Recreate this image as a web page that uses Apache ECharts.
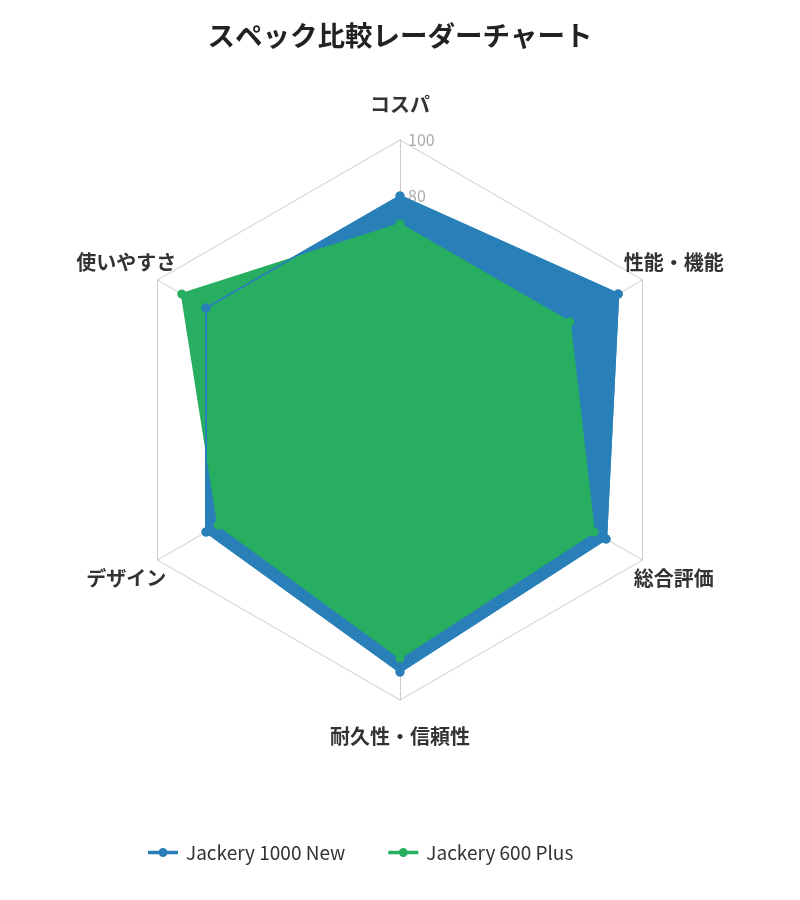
<!DOCTYPE html>
<html><head><meta charset="utf-8">
<script src="https://cdn.jsdelivr.net/npm/echarts@6/dist/echarts.min.js"></script>
<style>html,body{margin:0;padding:0;background:#fff}#c{width:800px;height:900px}</style>
</head><body><div id="c"></div>
<script>
// Indicators in clockwise order starting at the top, as shown in the chart
const indicators = ['コスパ', '性能・機能', '総合評価', '耐久性・信頼性', 'デザイン', '使いやすさ'];
const maxValue = 100;
const seriesNames = ['Jackery 1000 New', 'Jackery 600 Plus'];
const jackery1000 = [80, 90, 85, 90, 80, 80];
const jackery600 = [70, 70, 80, 85, 75, 90];
const colors = ['#2980b9', '#27ae60'];
const FONT = '"Noto Sans CJK JP", "Noto Sans", sans-serif';

// ECharts lays indicators out counter-clockwise; reorder so they appear clockwise
const order = [0, 5, 4, 3, 2, 1];
const reorder = arr => order.map(i => arr[i]);

const legendIcon = 'path://M0,2.75H30V6.25H0Z M10.5,4.5A4.5,4.5 0 1,1 19.5,4.5A4.5,4.5 0 1,1 10.5,4.5Z';

const chart = echarts.init(document.getElementById('c'));
chart.setOption({
  backgroundColor: '#fff',
  color: colors,
  title: {
    text: 'スペック比較レーダーチャート', left: 'center', top: 17,
    textStyle: { fontFamily: FONT, fontSize: 27.5, fontWeight: 'bold', color: '#222' }
  },
  legend: {
    data: seriesNames.map(n => ({ name: n, icon: legendIcon })),
    bottom: 33, left: 143, itemGap: 43, itemWidth: 30, itemHeight: 9,
    textStyle: { fontFamily: FONT, fontSize: 19, color: '#333', padding: [0, 0, 0, 3] }
  },
  radar: {
    center: ['50%', 420], radius: 280, startAngle: 90, splitNumber: 5,
    indicator: reorder(indicators).map((n, i) => ({
      name: n, max: maxValue, min: 0,
      axisLabel: { show: i === 0 }
    })),
    axisName: { fontFamily: FONT, fontSize: 20, fontWeight: 'bold', color: '#333', align: 'center', verticalAlign: 'middle' },
    nameGap: 36,
    axisLine: { lineStyle: { color: '#ccc' } },
    splitLine: { lineStyle: { color: '#ccc' } },
    splitArea: { show: false },
    axisLabel: { show: false, color: '#aaa', fontSize: 16, fontFamily: FONT, margin: -8, align: 'left' },
    axisTick: { show: false }
  },
  series: [{
    type: 'radar',
    symbol: 'circle', symbolSize: 9,
    data: [
      { name: seriesNames[0], value: reorder(jackery1000), lineStyle: { width: 2, color: colors[0] }, itemStyle: { color: colors[0] }, areaStyle: { color: colors[0], opacity: 1 } },
      { name: seriesNames[1], value: reorder(jackery600), lineStyle: { width: 2, color: colors[1] }, itemStyle: { color: colors[1] }, areaStyle: { color: colors[1], opacity: 1 } },
      // outline and points of the first model, drawn again above the filled areas
      { name: seriesNames[0], value: reorder(jackery1000), lineStyle: { width: 2, color: colors[0] }, itemStyle: { color: colors[0] }, areaStyle: { opacity: 0 } }
    ]
  }]
});
</script></body></html>
